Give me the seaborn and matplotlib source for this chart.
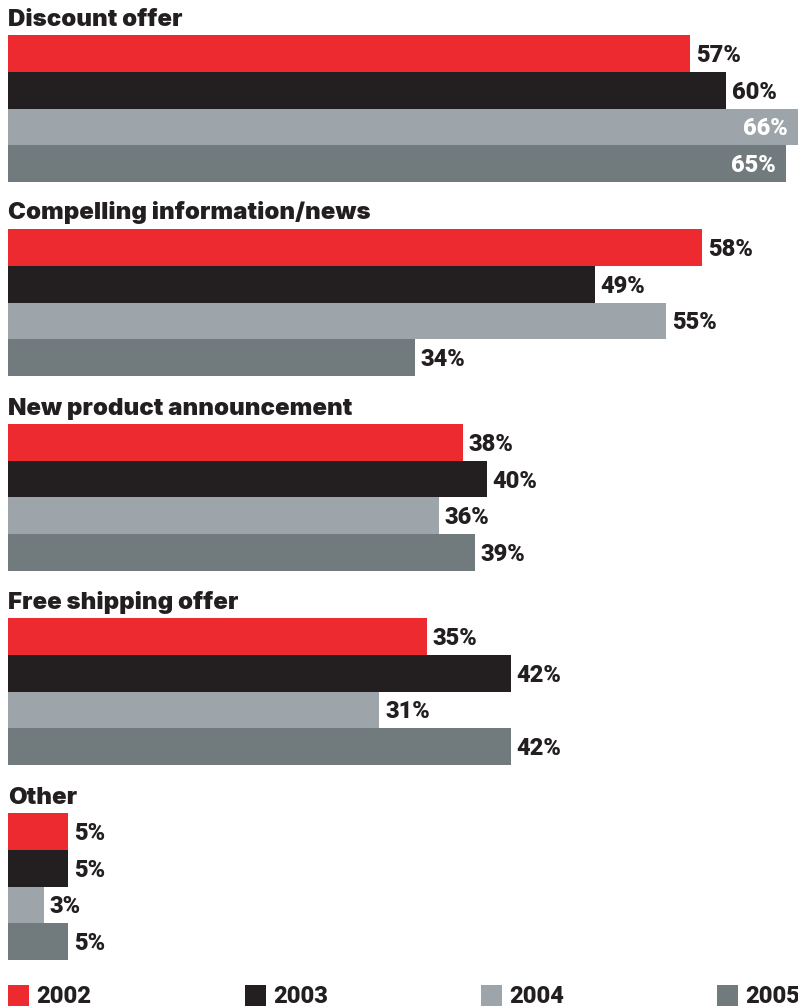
import matplotlib
matplotlib.use("Agg")
import matplotlib.pyplot as plt
from matplotlib.patches import Rectangle
import pandas as pd
import seaborn as sns

categories = [
    "Discount offer",
    "Compelling information/news",
    "New product announcement",
    "Free shipping offer",
    "Other",
]
years = ["2002", "2003", "2004", "2005"]
values_2002 = [57, 58, 38, 35, 5]
values_2003 = [60, 49, 40, 42, 5]
values_2004 = [66, 55, 36, 31, 3]
values_2005 = [65, 34, 39, 42, 5]

colors = ["#ED2A2F", "#231F20", "#9EA5AA", "#717A7C"]
text_color = "#231F20"

rows = []
for i, cat in enumerate(categories):
    for yr, vals in zip(years, [values_2002, values_2003, values_2004, values_2005]):
        rows.append({"category": cat, "year": yr, "value": vals[i]})
df = pd.DataFrame(rows)

sns.set_theme(style="white")
plt.rcParams["font.family"] = ["Roboto", "DejaVu Sans"]
title_family = ["Inter", "DejaVu Sans"]

W, H = 798, 1006
fig = plt.figure(figsize=(W / 100, H / 100), dpi=100)
fig.patch.set_facecolor("white")

palette = dict(zip(years, colors))
x_max = 66
left_px, right_px = 8, 798
group_tops = [35, 229, 424, 618, 813]
group_h = 147
title_fs = 17.3
num_fs = 17
fw = 900
cap_half = 8.5  # half the figure height in pixels, to centre labels on a bar

for cat, top in zip(categories, group_tops):
    ax = fig.add_axes([left_px / W, 1 - (top + group_h) / H,
                       (right_px - left_px) / W, group_h / H])
    sub = df[df["category"] == cat]
    sns.barplot(data=sub, x="value", y="year", hue="year", order=years,
                hue_order=years, palette=palette, width=1.0, dodge=False,
                legend=False, saturation=1, ax=ax, errorbar=None,
                linewidth=0, edgecolor="none")
    ax.set_xlim(0, x_max)
    ax.set_ylim(3.5, -0.5)
    ax.axis("off")
    for container in ax.containers:
        for bar in container:
            v = bar.get_width()
            if v != v:
                continue
            yc = bar.get_y() + bar.get_height() / 2
            label = f"{v:.0f}%"
            if v > 62:
                ax.annotate(label, (v, yc), xytext=(-10, -cap_half),
                            textcoords="offset pixels", ha="right", va="baseline",
                            fontsize=num_fs, fontweight=fw, color="white")
            else:
                ax.annotate(label, (v, yc), xytext=(6, -cap_half),
                            textcoords="offset pixels", ha="left", va="baseline",
                            fontsize=num_fs, fontweight=fw, color=text_color)
    fig.text(left_px / W, 1 - (top - 9.5) / H, cat, ha="left", va="baseline",
             fontsize=title_fs, fontweight=fw, family=title_family,
             color=text_color)

# legend row
legend_x = [8, 245, 481, 717]
for yr, col, lx in zip(years, colors, legend_x):
    fig.add_artist(Rectangle((lx / W, 0), 21 / W, 21 / H,
                             transform=fig.transFigure, facecolor=col,
                             edgecolor="none"))
    fig.text((lx + 28) / W, 1 - 1003 / H, yr, ha="left", va="baseline",
             fontsize=num_fs, fontweight=fw, color=text_color)

fig.savefig("out.png", dpi=100, facecolor="white")
